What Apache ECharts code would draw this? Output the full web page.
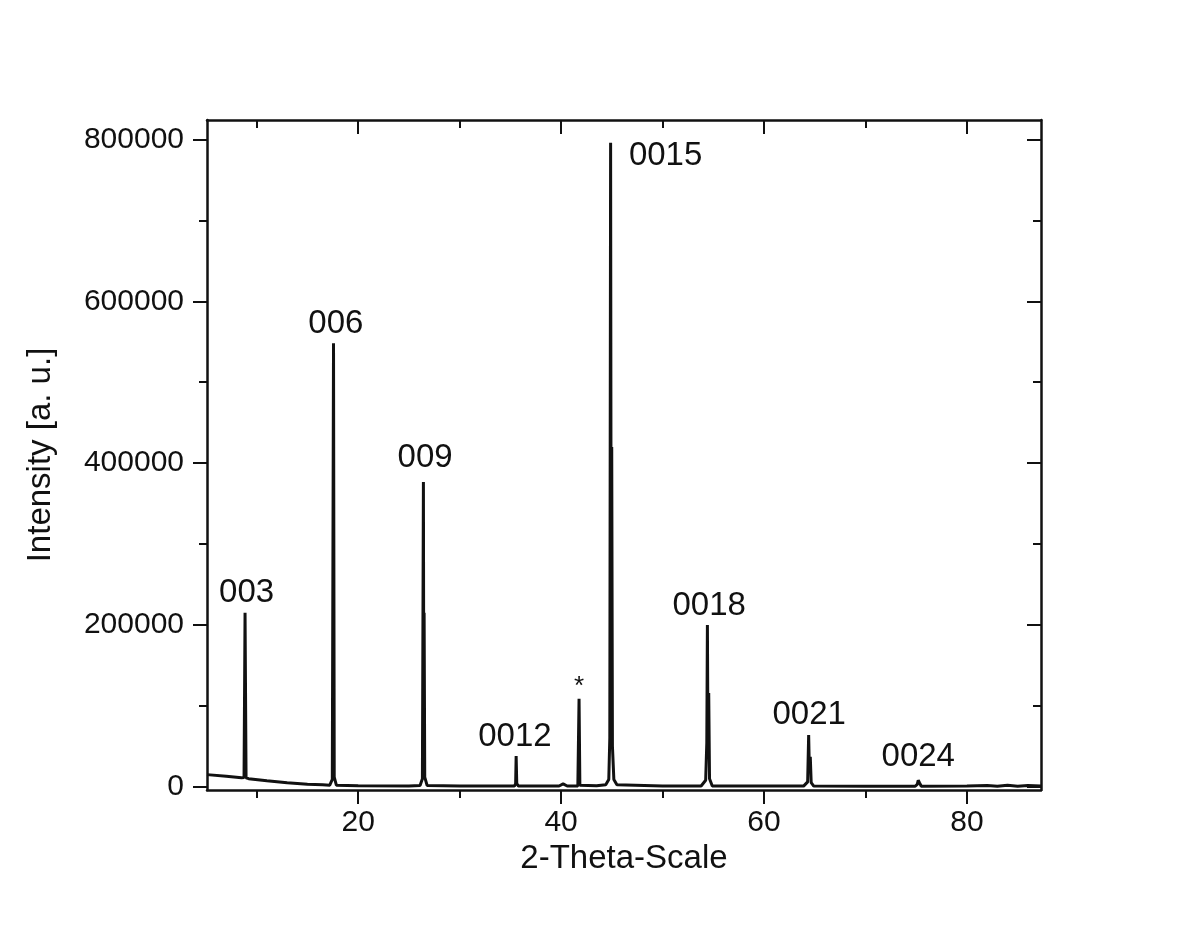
<!DOCTYPE html>
<html>
<head>
<meta charset="utf-8">
<title>XRD</title>
<script src="https://cdn.jsdelivr.net/npm/echarts@6/dist/echarts.min.js"></script>
<style>
html, body { margin: 0; padding: 0; background: #fff; }
#xrd_chart { width: 1183px; height: 927px; }
</style>
</head>
<body>
<div id="xrd_chart"></div>
<script>
// 2-Theta / intensity points
var thetaValues = [5.1, 7, 8.5, 8.75, 8.85, 8.95, 9.2, 11, 13, 15, 16.5, 17.2,
    17.45, 17.57, 17.64, 17.85, 20, 25, 26.1,
    26.33, 26.43, 26.47, 26.5, 26.56, 26.8, 30, 34, 35.4,
    35.52, 35.57, 35.63, 35.8, 39.8, 40.2, 40.6, 41.65,
    41.77, 41.85, 43.5, 44.4, 44.7, 44.8, 44.88, 44.94,
    44.99, 45.06, 45.2, 45.5, 50, 53.8, 54.25, 54.36,
    54.42, 54.48, 54.55, 54.63, 54.9, 60, 63.9, 64.3,
    64.4, 64.47, 64.56, 64.65, 64.9, 70, 74.9, 75.1,
    75.2, 75.32, 75.5, 80, 82, 83, 84, 85, 86, 87.3];
var intensityValues = [15000, 13000, 11000, 11500, 215000, 11000, 10000, 7500, 5000, 3200, 2400, 2000,
    9000, 548000, 12000, 2000, 1200, 1000, 1500,
    10000, 376500, 60000, 215000, 12000, 1500, 900, 900, 800,
    4000, 38000, 4000, 800, 900, 3500, 900, 1000,
    108600, 2000, 1200, 2500, 9000, 60000, 796000, 120000,
    420000, 50000, 9000, 2500, 900, 1000, 8000, 54000,
    200000, 40000, 116000, 10000, 1000, 800, 800, 6000,
    64000, 20000, 37000, 5000, 800, 700, 600, 3000,
    8000, 5000, 600, 800, 1500, 600, 1800, 700, 1600, 1000];

// peak labels (hkl) and where their text sits
var peakNames = ["003", "006", "009", "0012", "*", "0015", "0018", "0021", "0024"];
var peakLabelX = [9.0, 17.8, 26.6, 35.45, 41.77, 50.3, 54.6, 64.45, 75.2];
var peakLabelY = [240000, 572000, 406000, 61000, 124000, 780000, 223000, 89000, 37000];

var xMajor = [20, 40, 60, 80];
var xMinor = [10, 30, 50, 70];
var yMajor = [0, 200000, 400000, 600000, 800000];
var yMinor = [100000, 300000, 500000, 700000];

var xMin = 5.1, xMax = 87.3;
var yMin = -4000, yMax = 824000;

var FONT = "Liberation Sans, Arial, sans-serif";
var INK = "#111";

function lineData() {
    var arr = [];
    for (var i = 0; i < thetaValues.length; i++) {
        arr.push([thetaValues[i], intensityValues[i]]);
    }
    return arr;
}

function labelData() {
    var arr = [];
    for (var i = 0; i < peakNames.length; i++) {
        var item = {
            name: peakNames[i],
            value: [peakLabelX[i], peakLabelY[i]]
        };
        if (peakNames[i] == "*") {
            item.label = { fontSize: 26 };
        }
        arr.push(item);
    }
    return arr;
}

// one axis = one set of tick marks (major or minor) on one side of the frame
function xAxisOf(position, ticks, len, inside, withLine, withLabel) {
    return {
        type: 'value',
        gridIndex: 0,
        position: position,
        min: xMin,
        max: xMax,
        splitLine: { show: false },
        axisLine: { show: withLine, onZero: false, lineStyle: { color: INK, width: 2.5 } },
        axisTick: { show: true, inside: inside, length: len, customValues: ticks,
            lineStyle: { color: INK, width: 2 } },
        axisLabel: { show: withLabel, customValues: ticks, margin: 18,
            fontSize: 30, color: INK, fontFamily: FONT,
            formatter: function (v) { return String(v); } }
    };
}

function yAxisOf(position, ticks, len, inside, withLine, withLabel) {
    return {
        type: 'value',
        gridIndex: 0,
        position: position,
        min: yMin,
        max: yMax,
        splitLine: { show: false },
        axisLine: { show: withLine, onZero: false, lineStyle: { color: INK, width: 2.5 } },
        axisTick: { show: true, inside: inside, length: len, customValues: ticks,
            lineStyle: { color: INK, width: 2 } },
        axisLabel: { show: withLabel, customValues: ticks, margin: 23,
            fontSize: 30, color: INK, fontFamily: FONT,
            formatter: function (v) { return String(v); } }
    };
}

var xAxes = [
    xAxisOf('bottom', xMajor, 14, false, true, true),
    xAxisOf('bottom', xMinor, 8, false, false, false),
    xAxisOf('top', xMajor, 14, true, true, false),
    xAxisOf('top', xMinor, 8, true, false, false)
];
xAxes[0].name = '2-Theta-Scale';
xAxes[0].nameLocation = 'middle';
xAxes[0].nameGap = 50;
xAxes[0].nameTextStyle = { fontSize: 33, color: INK, fontFamily: FONT };

var yAxes = [
    yAxisOf('left', yMajor, 14, false, true, true),
    yAxisOf('left', yMinor, 8, false, false, false),
    yAxisOf('right', yMajor, 14, true, true, false),
    yAxisOf('right', yMinor, 8, true, false, false)
];
yAxes[0].name = 'Intensity [a. u.]';
yAxes[0].nameLocation = 'middle';
yAxes[0].nameGap = 150;
yAxes[0].nameTextStyle = { fontSize: 33, color: INK, fontFamily: FONT };

var chart = echarts.init(document.getElementById("xrd_chart"));
var option = {
    backgroundColor: '#fff',
    animation: false,
    grid: { left: 207, right: 142, top: 120, bottom: 137, containLabel: false },
    xAxis: xAxes,
    yAxis: yAxes,
    series: [{
        name: 'XRD',
        type: 'line',
        xAxisIndex: 0,
        yAxisIndex: 0,
        showSymbol: false,
        symbol: 'none',
        lineStyle: { color: INK, width: 3 },
        data: lineData()
    }, {
        name: 'hkl',
        type: 'scatter',
        xAxisIndex: 0,
        yAxisIndex: 0,
        symbolSize: 1,
        itemStyle: { color: 'transparent', opacity: 1 },
        label: {
            show: true,
            position: 'inside',
            formatter: '{b}',
            fontSize: 33,
            color: INK,
            opacity: 1,
            fontFamily: FONT
        },
        data: labelData()
    }]
};
chart.setOption(option);
</script>
</body>
</html>
